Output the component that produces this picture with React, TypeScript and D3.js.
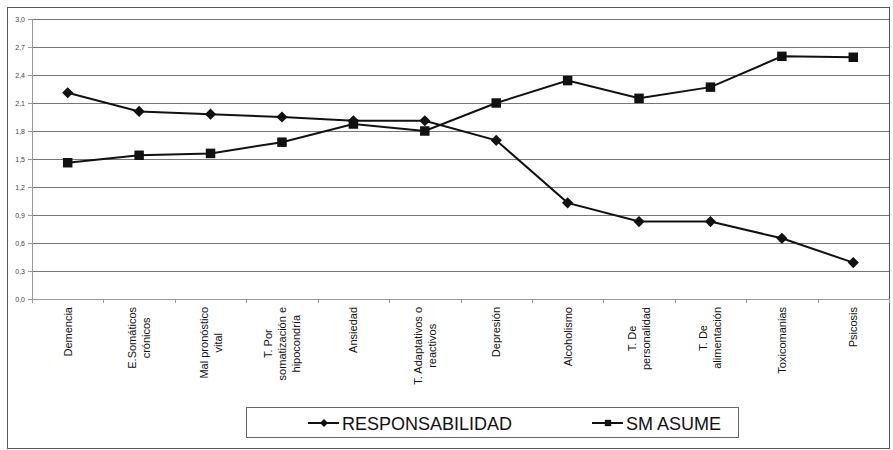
import React, { useEffect, useRef } from "react";
import * as d3 from "d3";

// Categories (multi-line labels split on "\n")
const categories: string[] = [
  "Demencia",
  "E.Somáticos\ncrónicos",
  "Mal pronóstico\nvital",
  "T. Por\nsomatización e\nhipocondría",
  "Ansiedad",
  "T. Adaptativos o\nreactivos",
  "Depresión",
  "Alcoholismo",
  "T. De\npersonalidad",
  "T. De\nalimentación",
  "Toxicomanias",
  "Psicosis",
];

const responsabilidad: number[] = [2.21, 2.01, 1.98, 1.95, 1.91, 1.91, 1.7, 1.03, 0.83, 0.83, 0.65, 0.39];
const smAsume: number[] = [1.46, 1.54, 1.56, 1.68, 1.875, 1.8, 2.1, 2.34, 2.15, 2.27, 2.6, 2.59];

const yTicks: number[] = [0, 0.3, 0.6, 0.9, 1.2, 1.5, 1.8, 2.1, 2.4, 2.7, 3.0];

const seriesNames: string[] = ["RESPONSABILIDAD", "SM ASUME"];

const W = 893;
const H = 450;
const plot = { left: 32, right: 889, top: 19, bottom: 299 };
const FONT = "'Liberation Sans', Arial, sans-serif";

export default function App() {
  const ref = useRef<SVGSVGElement | null>(null);

  useEffect(() => {
    const svg = d3.select(ref.current);
    svg.selectAll("*").remove();

    const x = d3
      .scaleBand<number>()
      .domain(d3.range(categories.length))
      .range([plot.left, plot.right])
      .paddingInner(0)
      .paddingOuter(0);
    const y = d3.scaleLinear().domain([0, 3]).range([plot.bottom, plot.top]);
    const cx = (i: number) => (x(i) as number) + x.bandwidth() / 2;

    // outer frame
    svg
      .append("rect")
      .attr("x", 7.5)
      .attr("y", 7.5)
      .attr("width", 882)
      .attr("height", 441)
      .attr("fill", "#fff")
      .attr("stroke", "#555")
      .attr("stroke-width", 1);

    // gridlines
    svg
      .append("g")
      .selectAll("line")
      .data(yTicks.filter((t) => t > 0))
      .join("line")
      .attr("x1", plot.left)
      .attr("x2", plot.right)
      .attr("y1", (d) => Math.round(y(d)) + 0.5)
      .attr("y2", (d) => Math.round(y(d)) + 0.5)
      .attr("stroke", "#777")
      .attr("stroke-width", 1);

    // y axis
    const yAxis = svg.append("g");
    yAxis
      .append("line")
      .attr("x1", plot.left + 0.5)
      .attr("x2", plot.left + 0.5)
      .attr("y1", plot.top)
      .attr("y2", plot.bottom)
      .attr("stroke", "#999");
    yAxis
      .selectAll("line.tick")
      .data(yTicks)
      .join("line")
      .attr("class", "tick")
      .attr("x1", plot.left - 4)
      .attr("x2", plot.left)
      .attr("y1", (d) => Math.round(y(d)) + 0.5)
      .attr("y2", (d) => Math.round(y(d)) + 0.5)
      .attr("stroke", "#999");
    yAxis
      .selectAll("text")
      .data(yTicks)
      .join("text")
      .attr("x", plot.left - 7)
      .attr("y", (d) => y(d) + 2.5)
      .attr("text-anchor", "end")
      .attr("font-family", FONT)
      .attr("font-size", 7)
      .attr("fill", "#444")
      .text((d) => d.toFixed(1).replace(".", ","));

    // x axis
    const xAxis = svg.append("g");
    xAxis
      .append("line")
      .attr("x1", plot.left)
      .attr("x2", plot.right)
      .attr("y1", plot.bottom + 0.5)
      .attr("y2", plot.bottom + 0.5)
      .attr("stroke", "#999");
    xAxis
      .selectAll("line.tick")
      .data(d3.range(categories.length + 1))
      .join("line")
      .attr("class", "tick")
      .attr("x1", (i) => Math.round(plot.left + i * x.bandwidth()) + 0.5)
      .attr("x2", (i) => Math.round(plot.left + i * x.bandwidth()) + 0.5)
      .attr("y1", plot.bottom)
      .attr("y2", plot.bottom + 4)
      .attr("stroke", "#999");

    // rotated, centre-aligned category labels hanging from the axis
    const labelTop = 307;
    const lineGap = 14;
    categories.forEach((cat, i) => {
      const lines = cat.split("\n");
      const g = xAxis.append("g");
      const texts = lines.map((ln) =>
        g
          .append("text")
          .attr("font-family", FONT)
          .attr("font-size", 11)
          .attr("fill", "#111")
          .attr("text-anchor", "middle")
          .text(ln)
      );
      const widths = texts.map((t) => (t.node() as SVGTextElement).getComputedTextLength());
      const maxW = d3.max(widths) || 0;
      const midY = labelTop + maxW / 2;
      const n = lines.length;
      texts.forEach((t, k) => {
        const colX = cx(i) + (k - (n - 1) / 2) * lineGap + 4;
        t.attr("transform", `translate(${colX},${midY}) rotate(-90)`);
      });
    });

    // series lines and markers
    const line = d3
      .line<number>()
      .x((_, i) => cx(i))
      .y((d) => y(d));

    svg
      .append("path")
      .datum(responsabilidad)
      .attr("d", line)
      .attr("fill", "none")
      .attr("stroke", "#111")
      .attr("stroke-width", 2);
    svg
      .append("path")
      .datum(smAsume)
      .attr("d", line)
      .attr("fill", "none")
      .attr("stroke", "#111")
      .attr("stroke-width", 2);

    const diamond = d3.symbol().type(d3.symbolDiamond2).size(80);
    const square = d3.symbol().type(d3.symbolSquare).size(90);

    svg
      .append("g")
      .selectAll("path")
      .data(responsabilidad)
      .join("path")
      .attr("d", diamond as any)
      .attr("transform", (d, i) => `translate(${cx(i)},${y(d)})`)
      .attr("fill", "#111");
    svg
      .append("g")
      .selectAll("path")
      .data(smAsume)
      .join("path")
      .attr("d", square as any)
      .attr("transform", (d, i) => `translate(${cx(i)},${y(d)})`)
      .attr("fill", "#111");

    // legend
    const lg = svg.append("g");
    lg.append("rect")
      .attr("x", 246.5)
      .attr("y", 407.5)
      .attr("width", 492)
      .attr("height", 30)
      .attr("fill", "#fff")
      .attr("stroke", "#666");
    const items = [
      { name: seriesNames[0], x0: 308, sym: d3.symbol().type(d3.symbolDiamond2).size(40) },
      { name: seriesNames[1], x0: 592, sym: d3.symbol().type(d3.symbolSquare).size(40) },
    ];
    items.forEach((it) => {
      const ly = 423;
      lg.append("line")
        .attr("x1", it.x0)
        .attr("x2", it.x0 + 31)
        .attr("y1", ly)
        .attr("y2", ly)
        .attr("stroke", "#111")
        .attr("stroke-width", 2);
      lg.append("path")
        .attr("d", it.sym as any)
        .attr("transform", `translate(${it.x0 + 16},${ly})`)
        .attr("fill", "#111");
      lg.append("text")
        .attr("x", it.x0 + 34)
        .attr("y", ly + 6.5)
        .attr("font-family", FONT)
        .attr("font-size", 18)
        .attr("fill", "#111")
        .text(it.name);
    });
  }, []);

  return (
    <svg
      ref={ref}
      width={W}
      height={H}
      style={{ position: "absolute", left: 0, top: 0, background: "#fff" }}
    />
  );
}
